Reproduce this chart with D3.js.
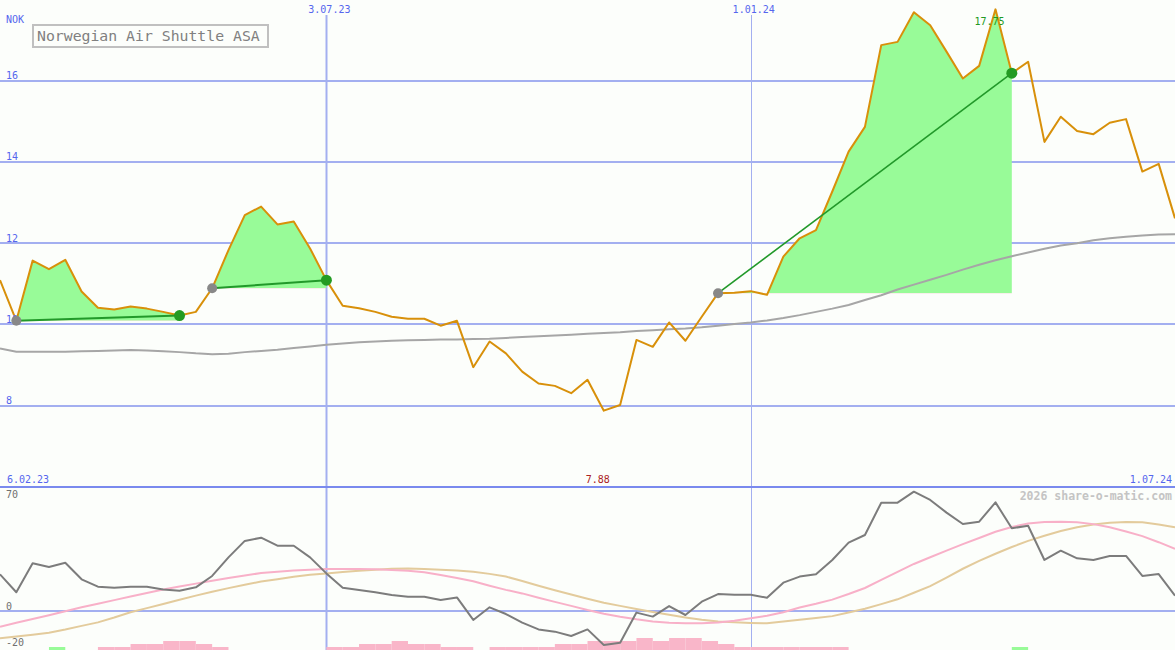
<!DOCTYPE html>
<html><head><meta charset="utf-8">
<script src="https://cdn.jsdelivr.net/npm/d3@7"></script>
<style>body{margin:0;background:#fcfefb;} svg{display:block}</style>
</head><body>
<svg id="c" width="1175" height="650"></svg>
<script>
// ---------- data ----------
const title = "Norwegian Air Shuttle ASA";
const currency = "NOK";
const startLabel = "6.02.23";
const endLabel = "1.07.24";
// weekly close prices (NOK)
const price = [11.09,10.09,11.57,11.36,11.59,10.81,10.41,10.37,10.44,10.39,
  10.31,10.22,10.31,10.89,11.83,12.69,12.90,12.46,12.53,11.87,
  11.09,10.46,10.40,10.31,10.19,10.14,10.14,9.97,10.09,8.95,
  9.58,9.29,8.84,8.55,8.49,8.31,8.64,7.88,8.02,9.62,
  9.45,10.05,9.60,10.19,10.77,10.78,10.82,10.73,11.67,12.12,
  12.32,13.27,14.25,14.86,16.87,16.95,17.68,17.36,16.71,16.05,
  16.36,17.75,16.18,16.46,14.49,15.11,14.76,14.68,14.96,15.05,
  13.76,13.95,12.61];
// long moving average
const movingAvg = [9.41,9.33,9.33,9.33,9.33,9.34,9.35,9.36,9.37,9.36,
  9.34,9.32,9.29,9.27,9.28,9.32,9.35,9.38,9.42,9.46,
  9.50,9.53,9.56,9.58,9.60,9.61,9.62,9.63,9.63,9.64,
  9.65,9.67,9.69,9.71,9.73,9.75,9.77,9.79,9.81,9.84,
  9.86,9.88,9.90,9.93,9.97,10.01,10.05,10.10,10.16,10.23,
  10.31,10.39,10.48,10.60,10.72,10.86,10.98,11.10,11.22,11.35,
  11.47,11.58,11.68,11.77,11.86,11.94,12.00,12.07,12.12,12.16,
  12.19,12.21,12.22];
// oscillator (lower panel, gray)
const oscillator = [22.9,11.7,29.8,27.5,30.2,19.8,15.2,14.6,15.2,15.2,
  13.5,12.7,14.8,21.9,33.5,43.8,45.8,40.8,40.8,33.5,
  23.5,14.6,13.1,11.7,10.0,8.9,8.9,6.9,8.5,-5.6,
  2.3,-1.9,-7.3,-11.5,-12.9,-15.6,-11.5,-21.3,-19.8,-1.0,
  -3.5,3.1,-2.5,5.8,10.6,10.2,10.2,8.3,17.7,21.5,
  22.9,31.9,42.7,47.5,67.7,67.7,74.6,69.4,61.5,54.4,
  55.8,67.9,51.7,53.3,31.9,37.7,32.9,31.9,34.4,34.4,
  21.9,23.1,9.6];
// signal lines (lower panel)
const signalFast = [-9.8,-7.4,-5.0,-2.6,-0.1,2.3,4.5,6.8,9.1,11.3,
  13.5,15.3,17.1,18.9,20.6,22.2,23.7,24.6,25.3,25.8,
  26.2,26.3,26.3,26.1,25.7,25.1,24.2,22.5,20.6,18.6,
  15.8,13.2,11.0,8.3,5.7,3.2,0.6,-1.7,-3.6,-5.2,
  -6.5,-7.3,-7.7,-7.7,-7.2,-6.1,-4.6,-3.0,-0.8,2.2,
  4.5,7.1,10.6,14.4,19.5,24.5,29.4,33.6,37.7,41.8,
  45.6,49.5,52.5,54.7,55.6,55.8,55.5,54.3,52.4,49.7,
  46.8,43.0,38.8];
const signalSlow = [-17.1,-16.0,-14.8,-13.6,-11.6,-9.3,-7.1,-4.1,-0.8,1.8,
  4.4,7.0,9.6,12.0,14.3,16.4,18.4,19.9,21.4,22.6,
  23.5,24.3,25.1,25.8,26.4,26.5,26.2,25.8,25.3,24.6,
  23.2,21.5,18.8,15.8,13.0,10.3,7.7,5.2,3.2,1.2,
  -0.6,-2.4,-4.0,-5.4,-6.5,-7.1,-7.5,-7.7,-6.6,-5.5,
  -4.4,-3.2,-1.0,1.4,4.3,7.3,11.4,15.5,20.9,26.4,
  31.3,35.8,40.0,43.8,47.0,50.0,52.4,54.1,55.1,55.7,
  55.4,54.0,52.3];
// histogram levels (positive = green, negative = pink)
const histogram = [0,0,0,1,0,0,-1,-1,-2,-2,
  -3,-3,-2,-1,0,0,0,0,0,0,
  -1,-1,-2,-2,-3,-2,-2,-1,-1,0,
  -1,-1,-1,-1,-2,-2,-3,-3,-3,-4,
  -3,-4,-4,-3,-2,-1,-1,-1,-1,-1,
  -1,-1,0,0,0,0,0,0,0,0,
  0,0,1,0,0,0,0,0,0,0,
  0,0,0];
// trades: entry / exit week indices
const tradeEntry = [1, 13, 44];
const tradeExit = [11, 20, 62];
// axis ticks
const priceTicks = [8, 10, 12, 14, 16];
const oscTicks = [-20, 0, 70];
const dateMarkIdx = [20, 46];
const dateMarkLabels = ["3.07.23", "1.01.24"];
const maxIdx = 61, minIdx = 37;
const maxLabel = "17.75", minLabel = "7.88";

// ---------- drawing ----------
const W = 1175, H = 650;
const svg = d3.select('#c');
const FONT = "'DejaVu Sans Mono', 'Liberation Mono', monospace";
svg.append('rect').attr('width', W).attr('height', H).attr('fill', '#fcfefb');

const x = d3.scaleLinear().domain([0, price.length - 1]).range([0, W]);
const yTop = d3.scaleLinear().domain([8, 16]).range([405.8, 80.5]);
const yBot = d3.scaleLinear().domain([-20, 70]).range([643, 499]);
const hBar = d3.scaleLinear().domain([0, 4]).range([0, 12]);

const defs = svg.append('defs');
defs.append('clipPath').attr('id', 'clipTop').append('rect')
  .attr('x', 0).attr('y', 0).attr('width', W).attr('height', 486);
defs.append('clipPath').attr('id', 'clipBot').append('rect')
  .attr('x', 0).attr('y', 488).attr('width', W).attr('height', H - 488);

const gridCol = '#a3aff0';
const labCol = '#5566ee';

// top gridlines
svg.append('g').selectAll('line').data(priceTicks).join('line')
  .attr('x1', 0).attr('x2', W)
  .attr('y1', d => Math.round(yTop(d))).attr('y2', d => Math.round(yTop(d)))
  .attr('stroke', gridCol).attr('stroke-width', 2);

// lower zero line
svg.append('line').attr('x1', 0).attr('x2', W)
  .attr('y1', yBot(0)).attr('y2', yBot(0))
  .attr('stroke', gridCol).attr('stroke-width', 2);

// vertical date lines
svg.append('g').selectAll('line').data(dateMarkIdx).join('line')
  .attr('x1', (d, i) => Math.round(x(d)) + (i === 0 ? 0.5 : 0.5))
  .attr('x2', (d, i) => Math.round(x(d)) + 0.5)
  .attr('y1', 15).attr('y2', H)
  .attr('stroke', gridCol).attr('stroke-width', (d, i) => i === 0 ? 2 : 1);

// separator
svg.append('line').attr('x1', 0).attr('x2', W).attr('y1', 487).attr('y2', 487)
  .attr('stroke', '#7a8aee').attr('stroke-width', 2);

// trade fills
const topG = svg.append('g').attr('clip-path', 'url(#clipTop)');
tradeEntry.forEach((e, k) => {
  const xit = tradeExit[k];
  const lvl = price[e];
  const seg = d3.range(e, xit + 1);
  const area = d3.area().x(i => x(i)).y0(yTop(lvl)).y1(i => yTop(price[i]));
  defs.append('clipPath').attr('id', 'up' + k).append('rect')
    .attr('x', 0).attr('y', 0).attr('width', W).attr('height', yTop(lvl));
  defs.append('clipPath').attr('id', 'dn' + k).append('rect')
    .attr('x', 0).attr('y', yTop(lvl)).attr('width', W).attr('height', 486 - yTop(lvl));
  topG.append('path').datum(seg).attr('d', area).attr('fill', '#98fb98')
    .attr('clip-path', 'url(#up' + k + ')');
  topG.append('path').datum(seg).attr('d', area).attr('fill', '#ffb6c1')
    .attr('clip-path', 'url(#dn' + k + ')');
});

// moving average
topG.append('path').datum(movingAvg)
  .attr('d', d3.line().x((d, i) => x(i)).y(d => yTop(d)))
  .attr('fill', 'none').attr('stroke', '#a6a6a6').attr('stroke-width', 2);

// price line
topG.append('path').datum(price)
  .attr('d', d3.line().x((d, i) => x(i)).y(d => yTop(d)))
  .attr('fill', 'none').attr('stroke', '#d8900a').attr('stroke-width', 2)
  .attr('stroke-linejoin', 'round');

// price tick labels
svg.append('g').selectAll('text').data(priceTicks).join('text')
  .attr('x', 6).attr('y', d => yTop(d) - 1.5)
  .attr('font-family', FONT).attr('font-size', 10).attr('fill', labCol)
  .text(d => d);
svg.append('text').attr('x', 6).attr('y', 23)
  .attr('font-family', FONT).attr('font-size', 10).attr('fill', labCol).text(currency);

// trade lines and dots
tradeEntry.forEach((e, k) => {
  const xit = tradeExit[k];
  svg.append('line')
    .attr('x1', x(e)).attr('y1', yTop(price[e]))
    .attr('x2', x(xit)).attr('y2', yTop(price[xit]))
    .attr('stroke', '#22992a').attr('stroke-width', k === 2 ? 1.6 : 2);
  svg.append('circle').attr('cx', x(e)).attr('cy', yTop(price[e])).attr('r', 5)
    .attr('fill', '#888888');
  svg.append('circle').attr('cx', x(xit)).attr('cy', yTop(price[xit])).attr('r', 5.5)
    .attr('fill', '#239b23');
});

// title box
svg.append('rect').attr('x', 33).attr('y', 25).attr('width', 235).attr('height', 22)
  .attr('fill', 'none').attr('stroke', '#c0c0c0').attr('stroke-width', 2);
svg.append('text').attr('x', 37).attr('y', 41).attr('font-family', FONT)
  .attr('font-size', 14.8).attr('fill', '#808080').text(title);

// date labels
svg.append('g').selectAll('text').data(dateMarkIdx).join('text')
  .attr('x', d => x(d) + 3).attr('y', 13).attr('text-anchor', 'middle')
  .attr('font-family', FONT).attr('font-size', 10).attr('fill', labCol)
  .text((d, i) => dateMarkLabels[i]);
svg.append('text').attr('x', 7).attr('y', 483).attr('font-family', FONT)
  .attr('font-size', 10).attr('fill', labCol).text(startLabel);
svg.append('text').attr('x', W - 3).attr('y', 483).attr('text-anchor', 'end')
  .attr('font-family', FONT).attr('font-size', 10).attr('fill', labCol).text(endLabel);

// max / min labels
svg.append('text').attr('x', x(maxIdx) - 6).attr('y', 25).attr('text-anchor', 'middle')
  .attr('font-family', FONT).attr('font-size', 10).attr('fill', '#229922').text(maxLabel);
svg.append('text').attr('x', x(minIdx) - 6).attr('y', 483).attr('text-anchor', 'middle')
  .attr('font-family', FONT).attr('font-size', 10).attr('fill', '#aa2222').text(minLabel);

// ---------- lower panel ----------
const botG = svg.append('g').attr('clip-path', 'url(#clipBot)');
botG.append('g').selectAll('rect').data(histogram.map((v, i) => ({v, i})).filter(d => d.v !== 0))
  .join('rect')
  .attr('x', d => x(d.i)).attr('width', d => x(d.i + 1) - x(d.i))
  .attr('y', d => H - hBar(Math.abs(d.v))).attr('height', d => hBar(Math.abs(d.v)))
  .attr('fill', d => d.v > 0 ? '#98fb98' : '#f9b6c9');

const lineB = d3.line().x((d, i) => x(i)).y(d => yBot(d));
botG.append('path').datum(signalSlow).attr('d', lineB)
  .attr('fill', 'none').attr('stroke', '#e3cb9c').attr('stroke-width', 2);
botG.append('path').datum(signalFast).attr('d', lineB)
  .attr('fill', 'none').attr('stroke', '#f8b0c8').attr('stroke-width', 2);
botG.append('path').datum(oscillator).attr('d', lineB)
  .attr('fill', 'none').attr('stroke', '#7c7c7c').attr('stroke-width', 2)
  .attr('stroke-linejoin', 'round');

svg.append('g').selectAll('text').data(oscTicks).join('text')
  .attr('x', 6).attr('y', d => yBot(d) + (d < 0 ? 3 : -1))
  .attr('font-family', FONT).attr('font-size', 10).attr('fill', '#707070')
  .text(d => d);

svg.append('text').attr('x', W - 3).attr('y', 500).attr('text-anchor', 'end')
  .attr('font-family', FONT).attr('font-size', 11.5).attr('font-weight', 'bold')
  .attr('fill', '#c4c4c4').text('2026 share-o-matic.com');
</script>
</body></html>
